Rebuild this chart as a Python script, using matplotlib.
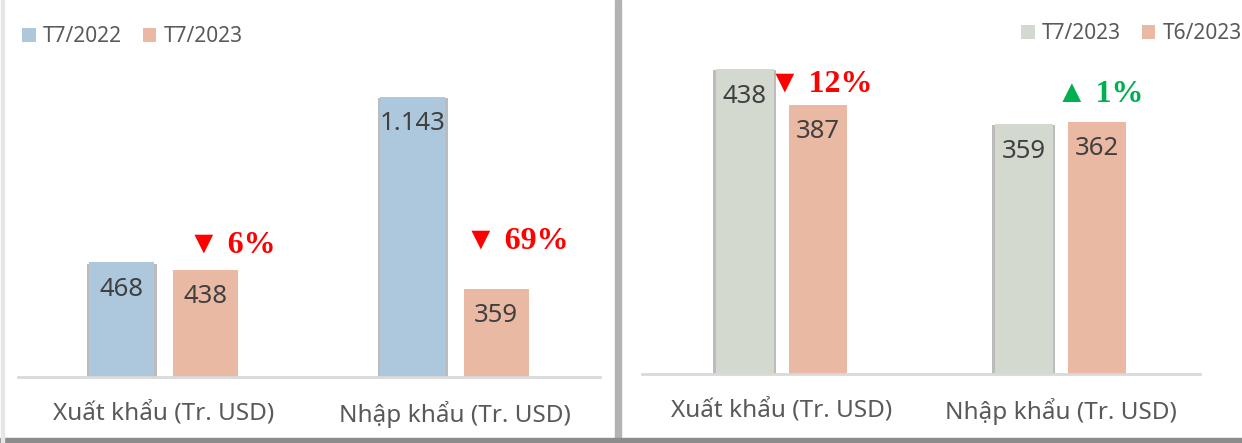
import matplotlib
matplotlib.use('Agg')
import numpy as np
from matplotlib import pyplot as plt
from matplotlib import patheffects as pe
from matplotlib.patches import Rectangle

plt.rcParams['font.family'] = ['Noto Sans', 'DejaVu Sans']

categories = ['Xuất khẩu (Tr. USD)', 'Nhập khẩu (Tr. USD)']

# left panel: same month, year on year
left_series = ['T7/2022', 'T7/2023']
left_prev = [468, 1143]
left_curr = [438, 359]
left_labels_prev = ['468', '1.143']
left_labels_curr = ['438', '359']
left_changes = ['▼ 6%', '▼ 69%']
left_change_colors = ['#ff0000', '#ff0000']

# right panel: month on month
right_series = ['T7/2023', 'T6/2023']
right_curr = [438, 359]
right_prev = [387, 362]
right_labels_curr = ['438', '359']
right_labels_prev = ['387', '362']
right_changes = ['▼ 12%', '▲ 1%']
right_change_colors = ['#ff0000', '#00b050']

W, H = 1242, 443
fig = plt.figure(figsize=(W / 100, H / 100), dpi=100)
fig.patch.set_facecolor('white')

shadow = [pe.SimplePatchShadow(offset=(-2, -1), shadow_rgbFace='#222222', alpha=0.3),
          pe.SimplePatchShadow(offset=(2, -1), shadow_rgbFace='#222222', alpha=0.3),
          pe.Normal()]


def panel(rect, ylim_top, vals_a, vals_b, labs_a, labs_b, color_a, color_b, width, off,
          changes, change_colors, change_offsets, series, leg_anchor, leg_loc):
    ax = fig.add_axes(rect)
    x = np.arange(len(categories))
    ba = ax.bar(x - off, vals_a, width, color=color_a, zorder=2, label=series[0])
    bb = ax.bar(x + off, vals_b, width, color=color_b, zorder=2, label=series[1])
    ax.legend(loc=leg_loc, bbox_to_anchor=leg_anchor, bbox_transform=fig.transFigure,
              ncol=2, frameon=False, fontsize=15, handlelength=0.65, handleheight=0.65,
              handletextpad=0.35, columnspacing=1.0, labelcolor='#595959',
              borderaxespad=0, borderpad=0)
    for b in ba:
        b.set_path_effects(shadow)
    for bars, labs in ((ba, labs_a), (bb, labs_b)):
        for b, t in zip(bars, labs):
            ax.annotate(t, (b.get_x() + b.get_width() / 2, b.get_height()),
                        xytext=(0, -27), textcoords='offset pixels',
                        ha='center', va='center', fontsize=18.5, color='#404040', zorder=3)
    for b, t, c, (dx, dy) in zip(bb, changes, change_colors, change_offsets):
        ax.annotate(t, (b.get_x() + b.get_width() / 2, b.get_height()),
                    xytext=(dx, dy), textcoords='offset pixels',
                    ha='center', va='center', fontsize=23, fontweight='bold',
                    color=c, family=['Liberation Serif', 'DejaVu Sans'])
    ax.set_xlim(-0.5, 1.5)
    ax.set_ylim(0, ylim_top)
    ax.set_yticks([])
    ax.set_xticks(x)
    ax.set_xticklabels(categories, fontsize=17.5, color='#595959')
    ax.tick_params(axis='x', length=0, pad=17)
    for s in ('top', 'right', 'left'):
        ax.spines[s].set_visible(False)
    ax.spines['bottom'].set_color('#d9d9d9')
    ax.spines['bottom'].set_linewidth(2)
    ax.patch.set_alpha(0)
    return ax


# left
panel([18 / W, 66 / H, 582 / W, 357 / H], 357 / 0.2453,
      left_prev, left_curr, left_labels_prev, left_labels_curr,
      '#adc7dd', '#eab9a3', 0.224, 0.143,
      left_changes, left_change_colors, [(27, 24), (21, 48)],
      left_series, (22 / W, 1 - 26 / H), 'upper left')

# right
panel([642 / W, 69 / H, 558 / W, 354 / H], 354 / 0.6963,
      right_curr, right_prev, right_labels_curr, right_labels_prev,
      '#d3d9cf', '#eab9a3', 0.206, 0.131,
      right_changes, right_change_colors, [(3, 20), (3, 27)],
      right_series, (1242 / W, 1 - 23 / H), 'upper right')

# panel frames / shadows
fig.patches.append(Rectangle((615 / W, 0), 6 / W, 1, transform=fig.transFigure,
                             color='#b3b3b3', zorder=0))
fig.patches.append(Rectangle((0, 0), 1, 5 / H, transform=fig.transFigure,
                             color='#8c8c8c', zorder=0))
fig.patches.append(Rectangle((1 / W, 0), 3 / W, 1, transform=fig.transFigure,
                             color='#e6e6e6', zorder=0))

fig.savefig('out.png', dpi=100)
